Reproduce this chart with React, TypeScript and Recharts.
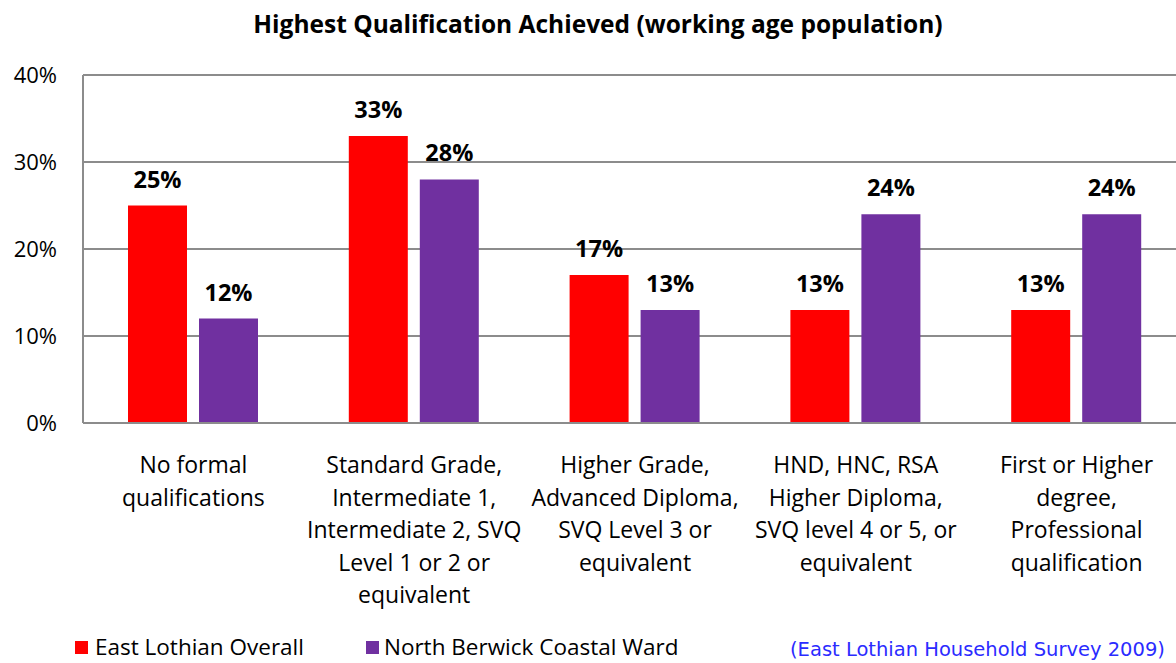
import { Bar, BarChart, CartesianGrid, LabelList, XAxis, YAxis } from "recharts"

const categories = [
  "No formal\nqualifications",
  "Standard Grade,\nIntermediate 1,\nIntermediate 2, SVQ\nLevel 1 or 2 or\nequivalent",
  "Higher Grade,\nAdvanced Diploma,\nSVQ Level 3 or\nequivalent",
  "HND, HNC, RSA\nHigher Diploma,\nSVQ level 4 or 5, or\nequivalent",
  "First or Higher\ndegree,\nProfessional\nqualification",
]
const eastLothian = [25, 33, 17, 13, 13]
const northBerwick = [12, 28, 13, 24, 24]
const yTicks = [0, 10, 20, 30, 40]

const data = categories.map((name, i) => ({
  name,
  east: eastLothian[i],
  north: northBerwick[i],
}))

const FONT = "'Open Sans', 'Noto Sans', sans-serif"

const CategoryTick = (props: any) => {
  const { x, y, payload } = props
  const lines = String(payload.value).split("\n")
  return (
    <text x={x} y={y} textAnchor="middle" fontSize={23} fontFamily={FONT} fill="#000">
      {lines.map((line: string, i: number) => (
        <tspan key={i} x={x} dy={i === 0 ? 48 : 32.5}>
          {line}
        </tspan>
      ))}
    </text>
  )
}

const labelStyle = { fontSize: 23.5, fontWeight: "bold", fontFamily: FONT, fill: "#000" }

export default function App() {
  return (
    <div style={{ position: "absolute", left: 0, top: 0, width: 1176, height: 663, overflow: "hidden", background: "#fff" }}>
      <div
        style={{
          position: "absolute",
          left: 0,
          width: 1196,
          top: 7,
          textAlign: "center",
          fontFamily: FONT,
          fontWeight: "bold",
          fontSize: 24.5,
        }}
      >
        Highest Qualification Achieved (working age population)
      </div>
      <BarChart
        width={1200}
        height={663}
        data={data}
        margin={{ top: 75, right: 13, left: 8, bottom: 60 }}
        barSize={59}
        barGap={12}
      >
        <CartesianGrid horizontal vertical={false} stroke="#8c8c8c" strokeWidth={2} />
        <XAxis
          dataKey="name"
          interval={0}
          height={180}
          tickLine={false}
          tickSize={0}
          tick={<CategoryTick />}
          stroke="#8c8c8c"
          strokeWidth={2}
        />
        <YAxis
          width={75}
          domain={[0, 40]}
          ticks={yTicks}
          tickFormatter={(v: number) => `${v}%`}
          tickLine={false}
          tickSize={0}
          tickMargin={26}
          tick={{ fontSize: 22, fontFamily: FONT, fill: "#000" }}
          stroke="#8c8c8c"
          strokeWidth={2}
        />
        <Bar dataKey="east" name="East Lothian Overall" fill="#ff0000" isAnimationActive={false}>
          <LabelList dataKey="east" position="top" offset={18} formatter={(v: any) => `${v}%`} style={labelStyle} />
        </Bar>
        <Bar dataKey="north" name="North Berwick Coastal Ward" fill="#7030a0" isAnimationActive={false}>
          <LabelList dataKey="north" position="top" offset={18} formatter={(v: any) => `${v}%`} style={labelStyle} />
        </Bar>
      </BarChart>
      <div
        style={{
          position: "absolute",
          left: 75,
          top: 636,
          display: "flex",
          alignItems: "center",
          fontFamily: FONT,
          fontSize: 22.5,
          lineHeight: 1,
          color: "#000",
          whiteSpace: "nowrap",
        }}
      >
        <span style={{ width: 13, height: 13, background: "#ff0000", display: "inline-block", marginRight: 7 }} />
        <span style={{ marginRight: 62 }}>East Lothian Overall</span>
        <span style={{ width: 13, height: 13, background: "#7030a0", display: "inline-block", marginRight: 5 }} />
        <span>North Berwick Coastal Ward</span>
      </div>
      <div
        style={{
          position: "absolute",
          left: 790,
          top: 640,
          fontFamily: "'DejaVu Sans', sans-serif",
          fontSize: 19.5,
          lineHeight: 1,
          color: "#2b2bff",
          whiteSpace: "nowrap",
        }}
      >
        (East Lothian Household Survey 2009)
      </div>
    </div>
  )
}
